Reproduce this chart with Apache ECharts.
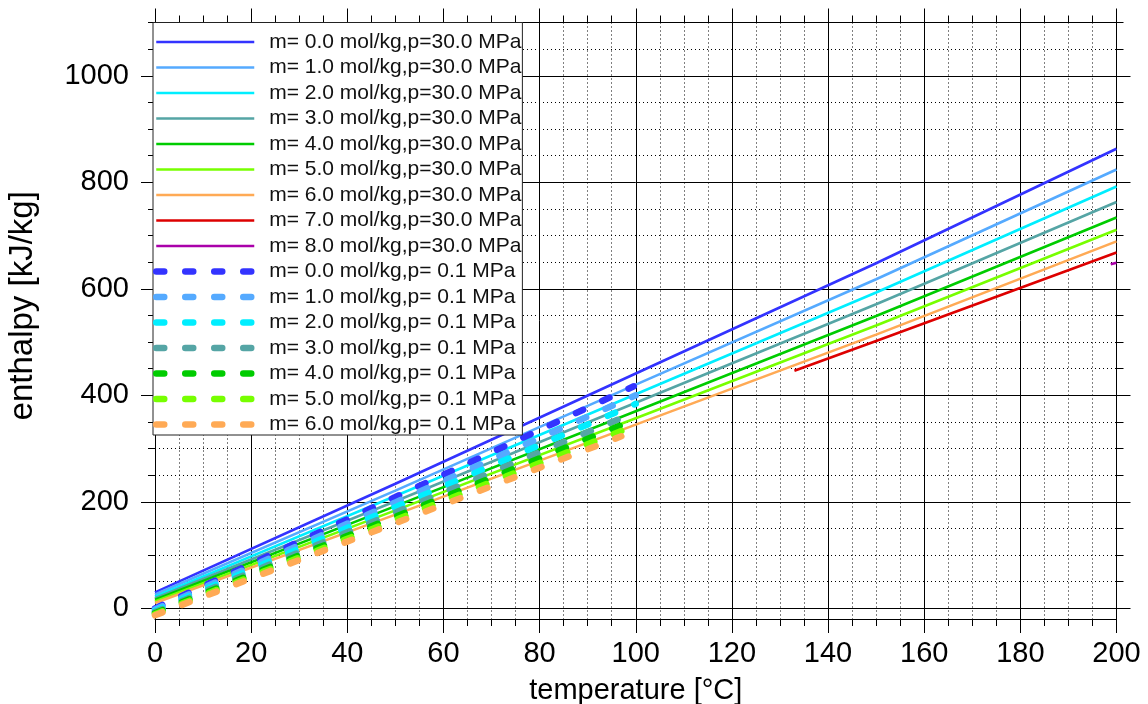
<!DOCTYPE html>
<html>
<head>
<meta charset="utf-8">
<script src="https://cdn.jsdelivr.net/npm/echarts@6/dist/echarts.min.js"></script>
<style>
html, body { margin: 0; padding: 0; background: #fff; }
#chart { width: 1148px; height: 704px; }
</style>
</head>
<body>
<div id="chart"></div>
<script>
// Specific enthalpy of NaCl brine vs temperature, two pressures.

// 30.0 MPa isobars, sampled temperatures [°C]
const temps30 = [0, 50, 100, 150, 200];
const h30_m0 = [30, 234, 441, 648, 863];
const h30_m1 = [26, 221, 420, 618, 824];
const h30_m2 = [22, 211, 402, 593, 792];
const h30_m3 = [19, 201, 386, 571, 763];
const h30_m4 = [16, 192, 370, 549, 734];
const h30_m5 = [13, 184, 357, 531, 711];
const h30_m6 = [10, 176, 345, 514, 689];
// high-molality branches only exist at high temperature
const temps30_m7 = [133, 150, 175, 200];
const h30_m7 = [446, 502, 585, 668];
const temps30_m8 = [198.8, 200];
const h30_m8 = [646, 649];

// 0.1 MPa isobars (liquid region, up to boiling)
const temps01_m0 = [0, 50, 99.6];
const h01_m0 = [0, 209, 417];
const temps01_m1 = [0, 50, 100];
const h01_m1 = [-2, 199, 400];
const temps01_m2 = [0, 50, 100];
const h01_m2 = [-5, 190, 384];
const temps01_m3 = [0, 50, 97];
const h01_m3 = [-7, 180, 357];
const temps01_m4 = [0, 50, 97];
const h01_m4 = [-9, 172, 344];
const temps01_m5 = [0, 50, 97];
const h01_m5 = [-11, 166, 333];
const temps01_m6 = [0, 50, 97];
const h01_m6 = [-13, 160, 323];

const molalities = ['0.0', '1.0', '2.0', '3.0', '4.0', '5.0', '6.0', '7.0', '8.0'];
const colors = ['#3333ff', '#55aaff', '#00eeff', '#55a5a5', '#00cc00', '#77ff00', '#ffaa55', '#dd0000', '#aa00aa'];

// axis ticks
const xTickStep = 20;
const yMajorTicks = [0, 200, 400, 600, 800, 1000];
const yMinorTicks = [50, 100, 150, 250, 300, 350, 450, 500, 550, 650, 700, 750, 850, 900, 950, 1050, 1100];

const FONT = 'Liberation Sans, Arial, Helvetica, sans-serif';

const set30 = [
  [temps30, h30_m0], [temps30, h30_m1], [temps30, h30_m2], [temps30, h30_m3],
  [temps30, h30_m4], [temps30, h30_m5], [temps30, h30_m6],
  [temps30_m7, h30_m7], [temps30_m8, h30_m8]
];
const set01 = [
  [temps01_m0, h01_m0], [temps01_m1, h01_m1], [temps01_m2, h01_m2], [temps01_m3, h01_m3],
  [temps01_m4, h01_m4], [temps01_m5, h01_m5], [temps01_m6, h01_m6]
];

function pairs(xs, ys) { return xs.map((x, i) => [x, ys[i]]); }

const series = [];
const legendNames = [];
set30.forEach(([xs, ys], i) => {
  const name = 'm= ' + molalities[i] + ' mol/kg,p=30.0 MPa';
  legendNames.push(name);
  series.push({
    name, type: 'line', data: pairs(xs, ys), symbol: 'none', showSymbol: false, z: 2,
    lineStyle: { color: colors[i], width: 2.6 }, itemStyle: { color: colors[i] },
    emphasis: { disabled: true }
  });
});
set01.forEach(([xs, ys], i) => {
  const name = 'm= ' + molalities[i] + ' mol/kg,p= 0.1 MPa';
  legendNames.push(name);
  series.push({
    name, type: 'line', data: pairs(xs, ys), symbol: 'none', showSymbol: false, z: 3,
    lineStyle: { color: colors[i], width: 6.5, type: [8, 21], cap: 'round' },
    itemStyle: { color: colors[i] },
    emphasis: { disabled: true }
  });
});

const black = '#000';
const dotted = { color: black, width: 1, type: [1, 3] };

function xAxisCfg(position, main) {
  return {
    type: 'value', position, min: 0, max: 200, interval: xTickStep,
    axisLine: { show: true, onZero: false, lineStyle: { color: black, width: 1 } },
    axisTick: { show: true, inside: false, length: 14, lineStyle: { color: black } },
    minorTick: { show: true, splitNumber: 4, length: 7, lineStyle: { color: black } },
    axisLabel: { show: main, fontSize: 29, fontFamily: FONT, color: black, margin: 20 },
    splitLine: { show: main, lineStyle: { color: black, width: 1 } },
    minorSplitLine: { show: main, lineStyle: dotted },
    name: main ? 'temperature [°C]' : '',
    nameLocation: 'middle', nameGap: 57,
    nameTextStyle: { fontSize: 29, fontFamily: FONT, color: black }
  };
}

function yAxisCfg(position, values, major, main) {
  return {
    type: 'value', position, min: -20, max: 1100,
    axisLine: { show: true, onZero: false, lineStyle: { color: black, width: 1 } },
    axisTick: { show: true, inside: false, length: major ? 14 : 7, customValues: values, lineStyle: { color: black } },
    axisLabel: {
      show: main, customValues: values, fontSize: 29, fontFamily: FONT, color: black, margin: 26,
      formatter: (v) => String(v)
    },
    splitLine: { show: position === 'left', lineStyle: major ? { color: black, width: 1 } : dotted },
    name: main ? 'enthalpy [kJ/kg]' : '',
    nameLocation: 'middle', nameGap: 116, nameRotate: 90,
    nameTextStyle: { fontSize: 33, fontFamily: FONT, color: black, padding: [0, 0, 0, 30] }
  };
}

const chart = echarts.init(document.getElementById('chart'), null, { renderer: 'canvas' });
chart.setOption({
  animation: false,
  backgroundColor: '#fff',
  grid: { left: 155, right: 31.5, top: 22.5, bottom: 85, containLabel: false, outerBoundsMode: 'none' },
  xAxis: [xAxisCfg('bottom', true), xAxisCfg('top', false)],
  yAxis: [
    yAxisCfg('left', yMajorTicks, true, true),
    yAxisCfg('left', yMinorTicks, false, false),
    yAxisCfg('right', yMajorTicks, true, false),
    yAxisCfg('right', yMinorTicks, false, false)
  ],
  legend: {
    data: legendNames, orient: 'vertical', left: 153, top: 22.5,
    itemWidth: 98, itemHeight: 12, itemGap: 4.5,
    padding: [9, 1, 0, 0],
    backgroundColor: '#fff', borderColor: '#222', borderWidth: 1,
    selectedMode: false,
    lineStyle: { width: 'inherit' },
    itemStyle: { color: 'rgba(0,0,0,0)', borderColor: 'rgba(0,0,0,0)', borderWidth: 0 },
    textStyle: { fontSize: 21, fontFamily: FONT, color: '#111', lineHeight: 21, padding: [0, 0, 0, 10] }
  },
  series
});
</script>
</body>
</html>
